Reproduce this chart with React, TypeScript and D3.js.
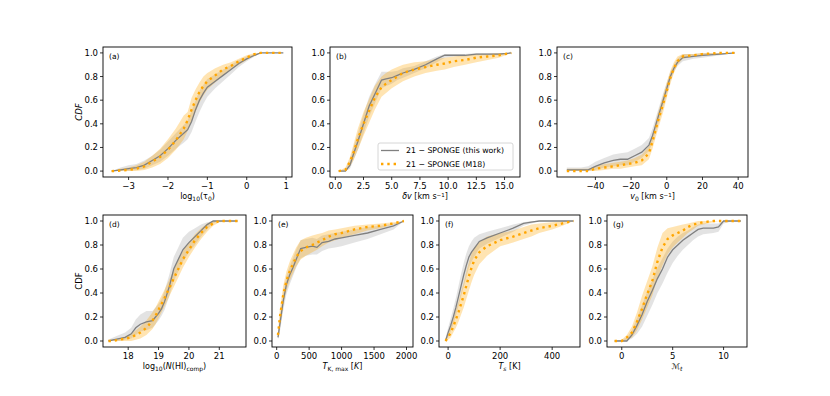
import React from "react";
import * as d3 from "d3";

// ---- data ----
const yTicks = [0, 0.2, 0.4, 0.6, 0.8, 1.0];

const aX = [-3.43, -3.2, -3.0, -2.8, -2.6, -2.4, -2.2, -2.0, -1.8, -1.6, -1.5, -1.4, -1.3, -1.2, -1.1, -1.0, -0.8, -0.6, -0.4, -0.2, 0.0, 0.2, 0.35, 0.6, 0.93];
const aGrey = [0, 0.01, 0.02, 0.03, 0.05, 0.09, 0.13, 0.19, 0.26, 0.32, 0.35, 0.42, 0.52, 0.6, 0.66, 0.71, 0.76, 0.81, 0.86, 0.91, 0.95, 0.98, 1, 1, 1];
const aGreyLo = [0, 0, 0, 0.01, 0.02, 0.05, 0.08, 0.13, 0.19, 0.24, 0.27, 0.33, 0.42, 0.5, 0.57, 0.63, 0.7, 0.76, 0.82, 0.88, 0.93, 0.97, 1, 1, 1];
const aGreyHi = [0, 0.03, 0.05, 0.06, 0.09, 0.13, 0.18, 0.25, 0.32, 0.39, 0.43, 0.51, 0.6, 0.68, 0.73, 0.78, 0.82, 0.86, 0.9, 0.94, 0.97, 0.99, 1, 1, 1];
const aOrange = [0, 0.005, 0.01, 0.02, 0.04, 0.08, 0.12, 0.18, 0.26, 0.36, 0.43, 0.52, 0.6, 0.67, 0.72, 0.76, 0.81, 0.86, 0.89, 0.93, 0.96, 0.99, 1, 1, 1];
const aOrangeLo = [0, 0, 0, 0, 0.01, 0.03, 0.06, 0.11, 0.18, 0.27, 0.34, 0.42, 0.5, 0.58, 0.64, 0.69, 0.75, 0.81, 0.86, 0.9, 0.94, 0.98, 1, 1, 1];
const aOrangeHi = [0, 0.02, 0.03, 0.05, 0.08, 0.13, 0.19, 0.27, 0.36, 0.47, 0.5, 0.62, 0.69, 0.75, 0.8, 0.83, 0.87, 0.9, 0.92, 0.95, 0.98, 1, 1, 1, 1];

const bX = [0.3, 0.9, 1.3, 1.6, 2.0, 2.5, 3.0, 3.5, 4.1, 4.5, 5.0, 5.5, 6.0, 7.0, 8.0, 9.0, 9.7, 10.5, 11.5, 12.5, 13.5, 14.5, 15.6];
const bGrey = [0, 0, 0.05, 0.14, 0.25, 0.4, 0.55, 0.65, 0.77, 0.78, 0.79, 0.81, 0.83, 0.86, 0.9, 0.95, 0.98, 0.98, 0.98, 0.99, 0.99, 0.99, 1];
const bGreyLo = [0, 0, 0.02, 0.09, 0.18, 0.32, 0.46, 0.57, 0.7, 0.72, 0.74, 0.77, 0.79, 0.83, 0.87, 0.92, 0.96, 0.97, 0.97, 0.98, 0.98, 0.98, 1];
const bGreyHi = [0, 0.02, 0.09, 0.2, 0.32, 0.48, 0.63, 0.73, 0.84, 0.84, 0.84, 0.85, 0.87, 0.89, 0.93, 0.97, 0.99, 0.99, 0.99, 1, 1, 1, 1];
const bOrange = [0, 0.01, 0.08, 0.15, 0.27, 0.4, 0.51, 0.62, 0.71, 0.74, 0.77, 0.8, 0.83, 0.86, 0.88, 0.9, 0.91, 0.93, 0.94, 0.96, 0.97, 0.98, 1];
const bOrangeLo = [0, 0, 0.04, 0.09, 0.18, 0.3, 0.41, 0.52, 0.63, 0.66, 0.7, 0.73, 0.76, 0.8, 0.83, 0.85, 0.86, 0.88, 0.9, 0.92, 0.94, 0.96, 1];
const bOrangeHi = [0, 0.03, 0.12, 0.22, 0.36, 0.5, 0.61, 0.72, 0.8, 0.83, 0.86, 0.88, 0.9, 0.92, 0.93, 0.95, 0.96, 0.97, 0.98, 0.99, 0.99, 1, 1];

const cX = [-56, -52, -48, -44, -40, -35, -30, -26, -22, -18, -14, -10, -8, -5, -2, 0, 2, 4, 6, 9, 15, 20, 30, 38];
const cGrey = [0.01, 0.01, 0.01, 0.01, 0.04, 0.07, 0.09, 0.1, 0.1, 0.13, 0.16, 0.22, 0.3, 0.45, 0.6, 0.7, 0.8, 0.87, 0.92, 0.96, 0.97, 0.98, 0.99, 1];
const cGreyLo = [0, 0, 0, 0, 0.01, 0.03, 0.04, 0.05, 0.05, 0.08, 0.11, 0.17, 0.24, 0.39, 0.54, 0.65, 0.76, 0.84, 0.89, 0.93, 0.95, 0.96, 0.98, 1];
const cGreyHi = [0.03, 0.03, 0.03, 0.04, 0.08, 0.11, 0.14, 0.15, 0.16, 0.19, 0.22, 0.28, 0.36, 0.51, 0.66, 0.75, 0.84, 0.9, 0.95, 0.99, 0.99, 1, 1, 1];
const cOrange = [0, 0, 0, 0, 0.02, 0.03, 0.04, 0.05, 0.06, 0.07, 0.09, 0.15, 0.25, 0.42, 0.57, 0.68, 0.79, 0.87, 0.93, 0.97, 0.98, 0.99, 1, 1];
const cOrangeLo = [0, 0, 0, 0, 0, 0.01, 0.02, 0.02, 0.03, 0.04, 0.05, 0.1, 0.19, 0.35, 0.5, 0.62, 0.74, 0.83, 0.9, 0.95, 0.97, 0.98, 0.99, 1];
const cOrangeHi = [0.02, 0.02, 0.02, 0.02, 0.04, 0.06, 0.07, 0.08, 0.09, 0.11, 0.14, 0.21, 0.31, 0.49, 0.64, 0.75, 0.85, 0.92, 0.97, 0.99, 0.99, 1, 1, 1];

const dX = [17.35, 17.5, 17.7, 17.9, 18.1, 18.25, 18.4, 18.6, 18.8, 18.9, 19.0, 19.1, 19.2, 19.35, 19.5, 19.65, 19.8, 20.0, 20.2, 20.4, 20.6, 20.8, 21.0, 21.6];
const dGrey = [0, 0.01, 0.02, 0.03, 0.06, 0.11, 0.14, 0.16, 0.17, 0.2, 0.23, 0.27, 0.33, 0.45, 0.6, 0.68, 0.76, 0.82, 0.87, 0.92, 0.97, 1, 1, 1];
const dGreyLo = [0, 0, 0, 0.01, 0.02, 0.05, 0.08, 0.09, 0.11, 0.14, 0.17, 0.21, 0.26, 0.37, 0.5, 0.58, 0.66, 0.74, 0.8, 0.87, 0.93, 0.98, 1, 1];
const dGreyHi = [0.01, 0.03, 0.05, 0.07, 0.11, 0.18, 0.22, 0.25, 0.25, 0.28, 0.31, 0.35, 0.42, 0.55, 0.7, 0.78, 0.86, 0.91, 0.94, 0.97, 0.99, 1, 1, 1];
const dOrange = [0, 0, 0.01, 0.02, 0.03, 0.05, 0.07, 0.11, 0.17, 0.21, 0.26, 0.31, 0.36, 0.44, 0.52, 0.6, 0.68, 0.76, 0.84, 0.9, 0.95, 0.98, 1, 1];
const dOrangeLo = [0, 0, 0, 0, 0, 0.01, 0.02, 0.05, 0.1, 0.14, 0.19, 0.24, 0.29, 0.37, 0.45, 0.53, 0.61, 0.7, 0.78, 0.85, 0.91, 0.96, 0.99, 1];
const dOrangeHi = [0.01, 0.01, 0.02, 0.04, 0.06, 0.09, 0.12, 0.17, 0.24, 0.28, 0.33, 0.38, 0.43, 0.51, 0.59, 0.67, 0.75, 0.82, 0.89, 0.94, 0.98, 1, 1, 1];

const eX = [20, 50, 100, 150, 200, 250, 300, 370, 450, 550, 620, 700, 800, 900, 1000, 1200, 1400, 1600, 1800, 1960];
const eGrey = [0.03, 0.14, 0.33, 0.47, 0.55, 0.61, 0.68, 0.77, 0.78, 0.79, 0.78, 0.82, 0.83, 0.85, 0.86, 0.88, 0.9, 0.93, 0.96, 1];
const eGreyLo = [0.01, 0.08, 0.25, 0.39, 0.47, 0.54, 0.61, 0.69, 0.71, 0.72, 0.72, 0.75, 0.77, 0.78, 0.79, 0.82, 0.85, 0.89, 0.93, 1];
const eGreyHi = [0.05, 0.2, 0.4, 0.54, 0.62, 0.69, 0.76, 0.84, 0.85, 0.86, 0.85, 0.88, 0.89, 0.9, 0.91, 0.93, 0.95, 0.96, 0.98, 1];
const eOrange = [0.05, 0.2, 0.38, 0.5, 0.58, 0.64, 0.7, 0.75, 0.78, 0.8, 0.82, 0.84, 0.87, 0.89, 0.9, 0.93, 0.95, 0.96, 0.98, 1];
const eOrangeLo = [0.02, 0.13, 0.3, 0.42, 0.5, 0.56, 0.62, 0.68, 0.71, 0.74, 0.76, 0.79, 0.82, 0.84, 0.86, 0.89, 0.92, 0.94, 0.97, 1];
const eOrangeHi = [0.08, 0.27, 0.46, 0.58, 0.66, 0.72, 0.78, 0.84, 0.86, 0.88, 0.89, 0.9, 0.92, 0.93, 0.94, 0.96, 0.97, 0.98, 0.99, 1];

const fX = [-10, 0, 10, 20, 30, 40, 50, 60, 70, 80, 90, 100, 120, 150, 200, 250, 290, 320, 350, 400, 440, 482];
const fGrey = [0, 0.07, 0.13, 0.2, 0.28, 0.37, 0.46, 0.55, 0.63, 0.7, 0.74, 0.77, 0.83, 0.86, 0.9, 0.94, 0.98, 0.99, 1, 1, 1, 1];
const fGreyLo = [0, 0.03, 0.08, 0.14, 0.21, 0.29, 0.37, 0.45, 0.53, 0.61, 0.66, 0.7, 0.77, 0.81, 0.86, 0.91, 0.96, 0.98, 1, 1, 1, 1];
const fGreyHi = [0.02, 0.11, 0.19, 0.27, 0.36, 0.46, 0.56, 0.65, 0.73, 0.79, 0.83, 0.86, 0.89, 0.91, 0.94, 0.97, 0.99, 1, 1, 1, 1, 1];
const fOrange = [0, 0.03, 0.07, 0.12, 0.18, 0.24, 0.31, 0.38, 0.46, 0.54, 0.61, 0.67, 0.74, 0.79, 0.84, 0.87, 0.9, 0.92, 0.94, 0.96, 0.98, 1];
const fOrangeLo = [0, 0.01, 0.03, 0.07, 0.11, 0.16, 0.22, 0.28, 0.35, 0.42, 0.49, 0.55, 0.64, 0.71, 0.79, 0.82, 0.85, 0.87, 0.9, 0.93, 0.96, 1];
const fOrangeHi = [0.01, 0.06, 0.12, 0.18, 0.26, 0.33, 0.41, 0.49, 0.58, 0.66, 0.73, 0.78, 0.83, 0.87, 0.9, 0.92, 0.95, 0.97, 0.98, 0.99, 1, 1];

const gX = [-0.7, 0, 0.5, 1.0, 1.5, 2.0, 2.5, 3.0, 3.5, 4.0, 4.5, 5.0, 5.5, 6.0, 6.5, 7.0, 7.5, 8.0, 9.0, 9.5, 10.0, 11.0, 11.7];
const gGrey = [0, 0, 0, 0.05, 0.13, 0.22, 0.33, 0.42, 0.52, 0.6, 0.7, 0.76, 0.8, 0.84, 0.87, 0.9, 0.93, 0.94, 0.94, 0.95, 1, 1, 1];
const gGreyLo = [0, 0, 0, 0.02, 0.06, 0.12, 0.21, 0.3, 0.4, 0.48, 0.57, 0.65, 0.71, 0.76, 0.8, 0.84, 0.87, 0.89, 0.9, 0.91, 0.98, 1, 1];
const gGreyHi = [0, 0.01, 0.03, 0.09, 0.19, 0.3, 0.41, 0.51, 0.61, 0.69, 0.77, 0.83, 0.87, 0.9, 0.92, 0.95, 0.97, 0.98, 0.98, 0.98, 1, 1, 1];
const gOrange = [0, 0, 0.03, 0.07, 0.16, 0.27, 0.39, 0.5, 0.66, 0.78, 0.85, 0.88, 0.9, 0.92, 0.95, 0.97, 0.98, 0.99, 1, 1, 1, 1, 1];
const gOrangeLo = [0, 0, 0.01, 0.03, 0.09, 0.18, 0.28, 0.38, 0.52, 0.63, 0.72, 0.78, 0.82, 0.86, 0.9, 0.93, 0.96, 0.97, 0.99, 1, 1, 1, 1];
const gOrangeHi = [0, 0.01, 0.05, 0.12, 0.24, 0.38, 0.5, 0.62, 0.78, 0.9, 0.94, 0.95, 0.96, 0.97, 0.98, 0.99, 1, 1, 1, 1, 1, 1, 1];

const legendLabels = ["21 \u2212 SPONGE (this work)", "21 \u2212 SPONGE (M18)"];

// ---- layout ----
const FONT = "DejaVu Sans, sans-serif";
const GREY = "#808080";
const ORANGE = "#ffa500";
const TOP_ROW = { top: 47, bottom: 177 };
const BOT_ROW = { top: 215, bottom: 347 };

const sub = (t: string, italic = false) => (
  <tspan baselineShift="-30%" fontSize="6" fontStyle={italic ? "italic" : "normal"}>{t}</tspan>
);
const sup = (t: string) => (
  <tspan baselineShift="35%" fontSize="5.5">{t}</tspan>
);

const panels = [
  { tag: "(a)", row: TOP_ROW, left: 103, right: 292, domain: [-3.65, 1.15], ticks: [-3, -2, -1, 0, 1], fmt: "d",
    x: aX, g: aGrey, gl: aGreyLo, gh: aGreyHi, o: aOrange, ol: aOrangeLo, oh: aOrangeHi,
    ylabel: "italic",
    xlabel: <>log{sub("10")}(τ{sub("0")})</> },
  { tag: "(b)", row: TOP_ROW, left: 330, right: 520, domain: [-0.47, 16.37], ticks: [0, 2.5, 5, 7.5, 10, 12.5, 15], fmt: ".1f",
    x: bX, g: bGrey, gl: bGreyLo, gh: bGreyHi, o: bOrange, ol: bOrangeLo, oh: bOrangeHi,
    legend: true,
    xlabel: <><tspan fontStyle="italic">δv</tspan> [km s{sup("\u22121")}]</> },
  { tag: "(c)", row: TOP_ROW, left: 557, right: 748, domain: [-61.5, 45.5], ticks: [-40, -20, 0, 20, 40], fmt: "d",
    x: cX, g: cGrey, gl: cGreyLo, gh: cGreyHi, o: cOrange, ol: cOrangeLo, oh: cOrangeHi,
    xlabel: <><tspan fontStyle="italic">v</tspan>{sub("0")} [km s{sup("\u22121")}]</> },
  { tag: "(d)", row: BOT_ROW, left: 103, right: 246, domain: [17.17, 21.88], ticks: [18, 19, 20, 21], fmt: "d",
    x: dX, g: dGrey, gl: dGreyLo, gh: dGreyHi, o: dOrange, ol: dOrangeLo, oh: dOrangeHi,
    ylabel: "normal",
    xlabel: <>log{sub("10")}(<tspan fontStyle="italic">N</tspan>(HI){sub("comp")})</> },
  { tag: "(e)", row: BOT_ROW, left: 272, right: 413, domain: [-72, 2100], ticks: [0, 500, 1000, 1500, 2000], fmt: "d",
    x: eX, g: eGrey, gl: eGreyLo, gh: eGreyHi, o: eOrange, ol: eOrangeLo, oh: eOrangeHi,
    xlabel: <><tspan fontStyle="italic">T</tspan>{sub("K, max")} [<tspan fontStyle="italic">K</tspan>]</> },
  { tag: "(f)", row: BOT_ROW, left: 439, right: 580, domain: [-35, 507], ticks: [0, 200, 400], fmt: "d",
    x: fX, g: fGrey, gl: fGreyLo, gh: fGreyHi, o: fOrange, ol: fOrangeLo, oh: fOrangeHi,
    xlabel: <><tspan fontStyle="italic">T</tspan>{sub("s", true)} [K]</> },
  { tag: "(g)", row: BOT_ROW, left: 607, right: 747, domain: [-1.45, 12.3], ticks: [0, 5, 10], fmt: "d",
    x: gX, g: gGrey, gl: gGreyLo, gh: gGreyHi, o: gOrange, ol: gOrangeLo, oh: gOrangeHi,
    xlabel: <><tspan fontStyle="italic">ℳ</tspan>{sub("t", true)}</> },
];

const Panel = ({ p }: { p: any }) => {
  const { top, bottom } = p.row;
  const x = d3.scaleLinear().domain(p.domain).range([p.left, p.right]);
  const y = d3.scaleLinear().domain([-0.05, 1.05]).range([bottom, top]);
  const idx = d3.range(p.x.length);
  const line = (ys: number[]) =>
    d3.line<number>().x((i) => x(p.x[i])).y((i) => y(ys[i]))(idx) || "";
  const band = (lo: number[], hi: number[]) =>
    d3.area<number>().x((i) => x(p.x[i])).y0((i) => y(lo[i])).y1((i) => y(hi[i]))(idx) || "";
  const fmt = d3.format(p.fmt);
  const tickText = (v: number) => fmt(v).replace("-", "\u2212");

  return (
    <g fontFamily={FONT}>
      <path d={band(p.gl, p.gh)} fill={GREY} fillOpacity={0.22} />
      <path d={band(p.ol, p.oh)} fill={ORANGE} fillOpacity={0.3} />
      <path d={line(p.g)} fill="none" stroke={GREY} strokeWidth={1.3} />
      <path d={line(p.o)} fill="none" stroke={ORANGE} strokeWidth={2.4} strokeDasharray="2.4 3.9" />
      <rect x={p.left} y={top} width={p.right - p.left} height={bottom - top} fill="none" stroke="#000" strokeWidth={0.9} />
      {yTicks.map((v) => (
        <g key={"y" + v}>
          <line x1={p.left - 3} x2={p.left} y1={y(v)} y2={y(v)} stroke="#000" strokeWidth={0.8} />
          <text x={p.left - 5} y={y(v)} dy="0.35em" textAnchor="end" fontSize={8.5}>{v.toFixed(1)}</text>
        </g>
      ))}
      {p.ticks.map((v: number) => (
        <g key={"x" + v}>
          <line x1={x(v)} x2={x(v)} y1={bottom} y2={bottom + 3} stroke="#000" strokeWidth={0.8} />
          <text x={x(v)} y={bottom + 11.5} textAnchor="middle" fontSize={8.5}>{tickText(v)}</text>
        </g>
      ))}
      <text x={p.left + 6} y={top + 12} fontSize={7.5}>{p.tag}</text>
      <text x={(p.left + p.right) / 2} y={bottom + 22} textAnchor="middle" fontSize={8}>{p.xlabel}</text>
      {p.ylabel && (
        <text transform={`translate(${p.left - 21},${(top + bottom) / 2}) rotate(-90)`} textAnchor="middle" fontSize={8.5}
          fontStyle={p.ylabel}>CDF</text>
      )}
      {p.legend && (
        <g>
          <rect x={378} y={143} width={135} height={27} rx={2} fill="#fff" fillOpacity={0.8} stroke="#ccc" strokeWidth={0.8} />
          <line x1={381} x2={399} y1={150.5} y2={150.5} stroke={GREY} strokeWidth={1.3} />
          <line x1={381} x2={399} y1={164} y2={164} stroke={ORANGE} strokeWidth={2.4} strokeDasharray="2.4 3.9" />
          <text x={406} y={150.5} dy="0.35em" fontSize={7.8}>{legendLabels[0]}</text>
          <text x={406} y={164} dy="0.35em" fontSize={7.8}>{legendLabels[1]}</text>
        </g>
      )}
    </g>
  );
};

export default function App() {
  return (
    <svg width={830} height={396} style={{ position: "absolute", left: 0, top: 0, background: "#fff" }}>
      {panels.map((p) => <Panel key={p.tag} p={p} />)}
    </svg>
  );
}
